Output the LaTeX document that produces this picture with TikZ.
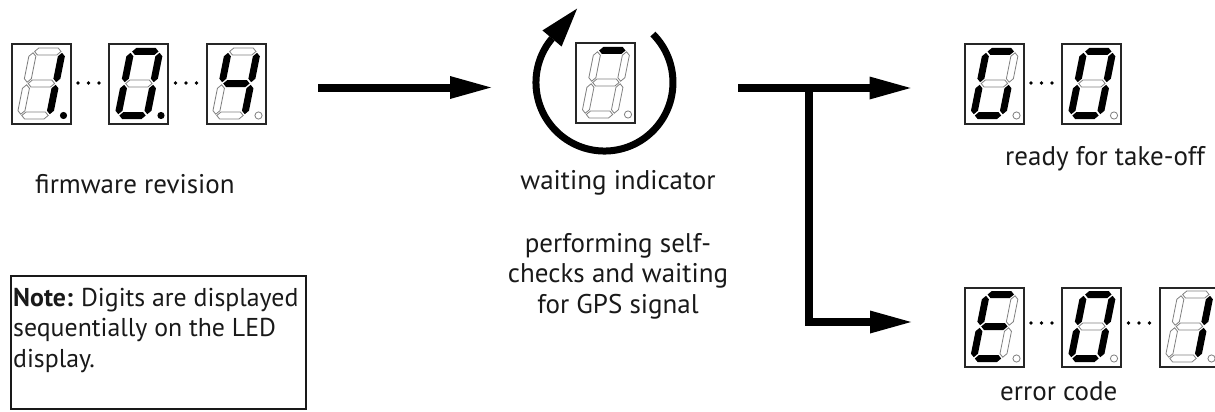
\documentclass[tikz,border=0pt]{standalone}
\usepackage{fontspec}
\setmainfont{PT Sans}
\usetikzlibrary{arrows.meta,calc}
\makeatletter
\newcommand\segset[2]{\in@{#1}{#2}\ifin@\tikzset{curseg/.style={segon}}\else\tikzset{curseg/.style={segoff}}\fi}
\makeatother
\newcommand\hseg[3]{\path[curseg] (#1+1.3,#3) -- (#1+4.8,#3-3.5) -- (#2-4.8,#3-3.5) -- (#2-1.3,#3) -- (#2-4.8,#3+3.5) -- (#1+4.8,#3+3.5) -- cycle;}
\newcommand\vseg[3]{\path[curseg] (#1,#2+1.3) -- (#1+3.5,#2+4.8) -- (#1+3.5,#3-4.8) -- (#1,#3-1.3) -- (#1-3.5,#3-4.8) -- (#1-3.5,#2+4.8) -- cycle;}
\newcommand\sevdigit[4]{%
  \node[digitbox, anchor=north west] (#1) at (#2,#3) {};
  \begin{scope}[shift={(#2+10,#3+72)}, xslant=0.2]
    \segset{a}{#4}\hseg{0}{29}{-64}
    \segset{b}{#4}\vseg{29}{-64}{-32}
    \segset{c}{#4}\vseg{29}{-32}{0}
    \segset{d}{#4}\hseg{0}{29}{0}
    \segset{e}{#4}\vseg{0}{-32}{0}
    \segset{f}{#4}\vseg{0}{-64}{-32}
    \segset{g}{#4}\hseg{0}{29}{-32}
  \end{scope}
  \segset{p}{#4}\path[curseg] (#2+53,#3+72) circle[radius=3.6pt];
}
\newcommand\threedots[2]{%
  \foreach \dx in {8,18.5,29} {\fill (#1+\dx,#2) circle[radius=1.9pt];}
}
\begin{document}
\begin{tikzpicture}[x=1pt,y=-1pt,
  segon/.style={fill=black, draw=none},
  segoff/.style={fill=white, draw=black!50, line width=0.8pt},
  digitbox/.style={draw=black!85, line width=2pt, fill=white, minimum width=59pt, minimum height=79pt, inner sep=0pt},
  lbl/.style={font=\fontsize{27}{30.5}\selectfont, inner sep=0pt, text=black!90},
  notelbl/.style={font=\fontsize{25.8}{30.5}\selectfont, inner sep=0pt, text=black!90},
  bigarrow/.style={line width=8pt, -{Triangle[length=41pt,width=23pt,line width=0pt]}},
  looparrow/.style={line width=7pt, -{Triangle[length=39pt,width=25pt,line width=0pt]}},
  notebox/.style={draw=black!90, line width=2pt, minimum width=295pt, minimum height=133pt, inner sep=0pt}
]
\useasboundingbox (0,0) rectangle (1215,412);

% firmware revision
\sevdigit{fw1}{10.5}{43.5}{bcp}
\threedots{70}{83}
\sevdigit{fw2}{108}{43.5}{abcdefp}
\threedots{167.5}{83}
\sevdigit{fw3}{205.5}{43.5}{bcfg}
\node[lbl, anchor=base west] (fwlbl) at (35,193) {firmware revision};

% waiting indicator
\sevdigit{wt}{575}{42.5}{a}
\coordinate (loopstart) at (652.9,34.1);
\draw[looparrow] (loopstart) arc[start angle=-45, end angle=220, radius=68.5] -- ++(25.1,-29.9);
\node[lbl, anchor=base] (wlbl) at (618,189) {waiting indicator};
\node[lbl, anchor=base, align=center] (wdesc) at (618,313) {performing self-\\checks and waiting\\for GPS signal};

% ready
\sevdigit{rd1}{963.5}{43.5}{acdef}
\threedots{1023}{83}
\sevdigit{rd2}{1061}{43.5}{abcdef}
\node[lbl, anchor=base west] (rlbl) at (1005,165) {ready for take-off};

% error
\sevdigit{er1}{963.5}{286.5}{adefg}
\threedots{1023}{323}
\sevdigit{er2}{1061}{286.5}{abcdef}
\threedots{1120.5}{323}
\sevdigit{er3}{1158.5}{286.5}{bc}
\node[lbl, anchor=base west] (elbl) at (1000,400) {error code};

% arrows
\coordinate (a1s) at (318,87.5);
\coordinate (a1e) at (491,87.5);
\draw[bigarrow] (a1s) -- (a1e);
\coordinate (brs) at (738,88);
\coordinate (rdytip) at (910.5,88);
\coordinate (jn) at (808.5,88);
\coordinate (errtip) at (911,322);
\draw[bigarrow] (brs) -- (rdytip);
\draw[bigarrow, line join=miter] (jn) |- (errtip);

% note
\node[notebox, anchor=north west] (note) at (9.5,274.5) {};
\node[notelbl, anchor=base west, align=left] (notetxt) at (13,367) {\textbf{Note:}\hspace{-1pt} Digits are displayed\\sequentially on the LED\\display.};
\end{tikzpicture}
\end{document}
